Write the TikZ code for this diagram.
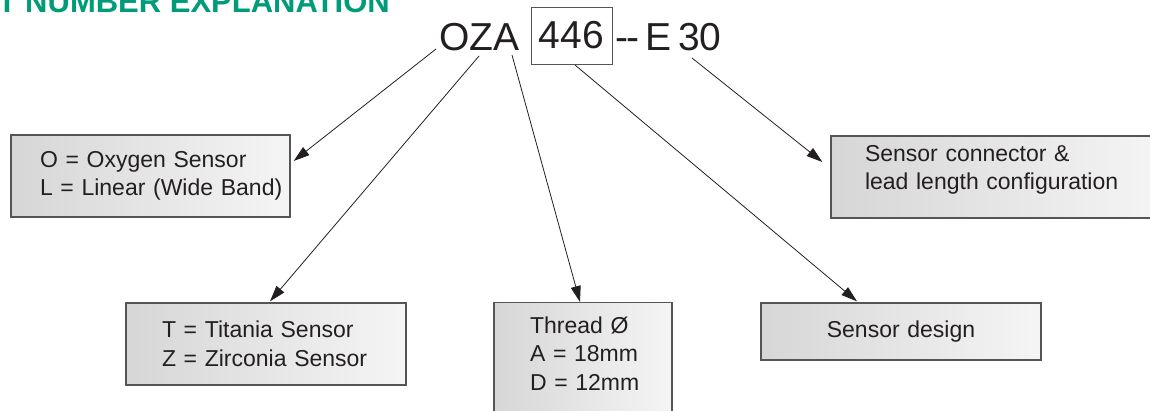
\documentclass[tikz,border=0pt]{standalone}
\usepackage{fontspec}
\setmainfont{Liberation Sans}
\usetikzlibrary{arrows.meta,calc}
\definecolor{titlegreen}{RGB}{0,155,120}
\definecolor{edgegray}{RGB}{85,85,85}
\definecolor{inkblack}{RGB}{35,31,32}
\newcommand{\padA}{\hspace*{29pt}}
\newcommand{\padB}{\hspace*{34pt}}
\newcommand{\padC}{\hspace*{36pt}}
\begin{document}
\begin{tikzpicture}[x=1pt,y=-1pt,
  infobox/.style={draw=edgegray,line width=1.3pt,left color=black!16,right color=black!4,
    inner xsep=0pt,inner ysep=0pt,align=left,text=inkblack,
    font=\fontsize{23}{28.5}\selectfont},
  pointer/.style={draw=inkblack,line width=0.8pt,-{Triangle[length=16pt,width=10pt]}},
  bigtext/.style={inner sep=0pt,text=inkblack,font=\fontsize{39}{44}\selectfont},
  titletext/.style={inner sep=0pt,text=titlegreen,font=\fontsize{31}{36}\selectfont\bfseries}]
\useasboundingbox (0,0) rectangle (1150,410);
\clip (0,0) rectangle (1150,410);
% heading (cut off at the top)
\node[titletext,anchor=base east] (title) at (390,12) {PART NUMBER EXPLANATION};
% part number
\node[bigtext,anchor=base west] (oza) at (439,50) {OZA};
\node[bigtext,draw=edgegray,line width=1pt,minimum width=81pt,minimum height=57pt] (code) at (571.5,35.5) {446};
\node[bigtext,anchor=base west] (dash) at (615,50) {-\kern-2pt-};
\node[bigtext,anchor=base west] (ee) at (645,50) {E};
\node[bigtext,anchor=base west] (num) at (678,50) {30};
% explanation boxes
\node[infobox,text width=279pt,minimum height=82pt] (b1) at (150.5,176)
  {\padA O = Oxygen Sensor\\\padA L = Linear (Wide Band)};
\node[infobox,text width=334pt,minimum height=82pt] (bC) at (998,177)
  {\padB Sensor connector \&\\\padB lead length configuration\par\vspace*{14pt}};
\node[infobox,text width=280pt,minimum height=82pt] (bT) at (266,344)
  {\padC T = Titania Sensor\\\padC Z = Zirconia Sensor};
\node[infobox,text width=178pt,minimum height=125pt,anchor=north] (bTh) at (583,302)
  {\padC Thread Ø\\\padC A = 18mm\\\padC D = 12mm\par\vspace*{23pt}};
\node[infobox,text width=280pt,minimum height=57pt,align=center] (bS) at (901,331.5)
  {Sensor design};
% connector start points under the part number
\coordinate (s1) at (436,49);
\coordinate (s2) at (479,56);
\coordinate (s3) at (512,55);
\coordinate (s4) at (575,65);
\coordinate (s5) at (692,58);
\draw[pointer] (s1) -- ($(b1.east)+(3,-15)$);
\draw[pointer] (s2) -- ($(bT.north)+(4,-1)$);
\draw[pointer] (s3) -- ($(bTh.north)+(-3,0)$);
\draw[pointer] (s4) -- ($(bS.north)+(-44,-1)$);
\draw[pointer] (s5) -- ($(bC.west)+(-8,-15)$);
\end{tikzpicture}
\end{document}
